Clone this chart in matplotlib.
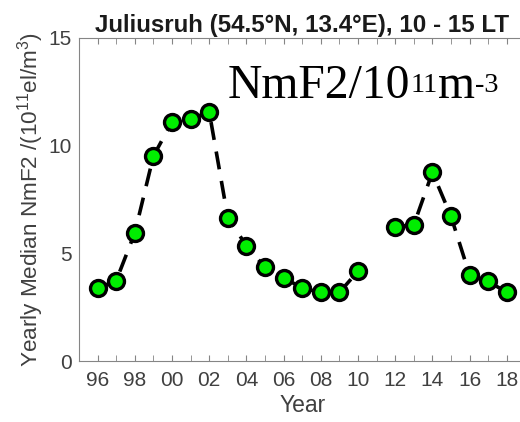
import numpy as np
import matplotlib
matplotlib.use("Agg")
import matplotlib.pyplot as plt
from matplotlib.transforms import offset_copy

plt.rcParams['font.family'] = ['Liberation Sans', 'DejaVu Sans']
plt.rcParams['mathtext.fontset'] = 'custom'
plt.rcParams['mathtext.rm'] = 'Liberation Sans'
plt.rcParams['mathtext.it'] = 'Liberation Sans:italic'
plt.rcParams['lines.scale_dashes'] = False

# Yearly median NmF2 at Juliusruh, 10-15 LT (units of 1e11 el/m^3); 2011 has no data
years = [1996, 1997, 1998, 1999, 2000, 2001, 2002, 2003, 2004, 2005, 2006, 2007,
         2008, 2009, 2010, 2011, 2012, 2013, 2014, 2015, 2016, 2017, 2018]
nmf2 = [3.39, 3.74, 5.95, 9.51, 11.09, 11.21, 11.57, 6.66, 5.36, 4.36, 3.88, 3.40,
        3.20, 3.20, 4.18, np.nan, 6.24, 6.32, 8.76, 6.72, 4.00, 3.71, 3.20]
xtick_years = list(range(1996, 2019, 2))
xtick_labels = ['96', '98', '00', '02', '04', '06', '08', '10', '12', '14', '16', '18']
yticks = [0, 5, 10, 15]

fig = plt.figure(figsize=(5.2, 4.22), dpi=100)
ax = fig.add_axes([0.1519, 0.1434, 0.8585, 0.7677])

ax.plot(years, nmf2, color='black', linewidth=2.6, dashes=(13, 8.5), zorder=2)
ax.plot(years, nmf2, linestyle='none', marker='o', markersize=11.5,
        markerfacecolor='#00ee00', markeredgecolor='black', markeredgewidth=2.4,
        zorder=3)

ax.set_xlim(1995, 2019)
ax.set_ylim(0, 15)
ax.set_xticks(xtick_years)
ax.set_xticklabels(xtick_labels)
ax.set_xticks(range(1995, 2020), minor=True)
ax.set_yticks(yticks)

tick_color = '#404040'
spine_color = '#858585'
for s in ax.spines.values():
    s.set_color(spine_color)
    s.set_linewidth(0.8)
ax.tick_params(axis='x', which='both', direction='in', top=True, bottom=True,
               length=4, color=spine_color, labelsize=15, labelcolor=tick_color,
               pad=6.5)
ax.tick_params(axis='y', length=0, labelsize=15, labelcolor=tick_color, pad=5)

ax.set_xlabel('Year', fontsize=16.5, color=tick_color, labelpad=3)
ax.set_ylabel(r'Yearly Median NmF2 /(10$^{11}$el/m$^3$)', fontsize=16.2,
              color=tick_color, labelpad=2)
ax.set_title('Juliusruh (54.5°N, 13.4°E), 10 - 15 LT', fontsize=17.4,
             fontweight='bold', color='#1a1a1a', pad=4)

# Quantity label in serif type: pieces laid out left to right,
# exponents smaller and raised above the baseline
serif = 'Liberation Serif'
big, small, rise = 34.3, 20.5, 6
pieces = [('NmF2/10', big, 0), ('11', small, rise), ('m', big, 0), ('-3', small, rise)]
x0, y0 = 2003.0, 12.2
fig.canvas.draw()
renderer = fig.canvas.get_renderer()
dx = 0.0
for txt, size, dy in pieces:
    tr = offset_copy(ax.transData, fig=fig, x=dx, y=dy, units='dots')
    t = ax.text(x0, y0, txt, transform=tr, fontsize=size, family=serif,
                va='baseline', ha='left', color='black')
    dx += t.get_window_extent(renderer).width

fig.savefig('out.png', dpi=100)
